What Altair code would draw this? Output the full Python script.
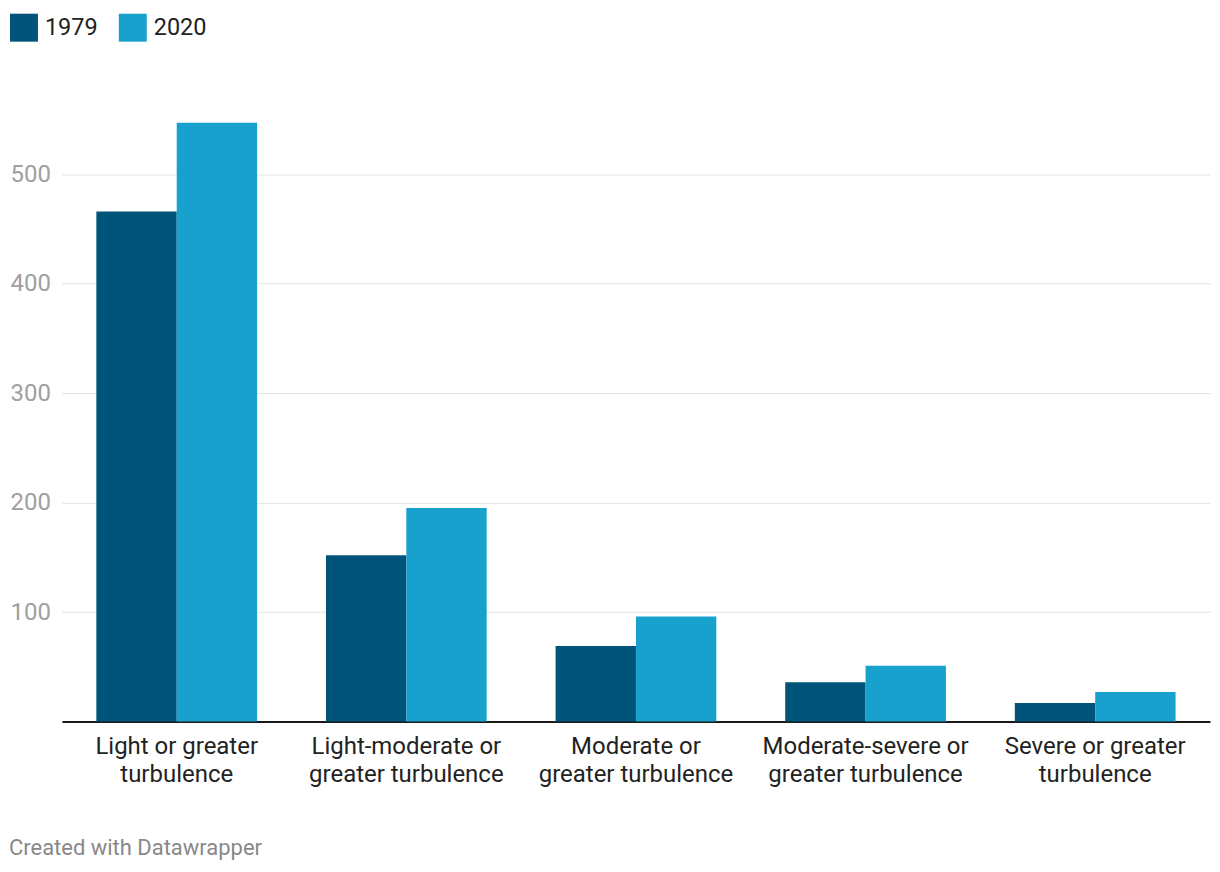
import altair as alt
import pandas as pd

categories = [
    "Light or greater turbulence",
    "Light-moderate or greater turbulence",
    "Moderate or greater turbulence",
    "Moderate-severe or greater turbulence",
    "Severe or greater turbulence",
]
label_line1 = ["Light or greater", "Light-moderate or", "Moderate or", "Moderate-severe or", "Severe or greater"]
label_line2 = ["turbulence", "greater turbulence", "greater turbulence", "greater turbulence", "turbulence"]
years = ["1979", "2020"]
values_1979 = [466, 152, 69, 36, 17]
values_2020 = [547, 195, 96, 51, 27]
y_ticks = [100, 200, 300, 400, 500]
colors = ["#00547a", "#18a1cd"]

rows = []
for c, a, b in zip(categories, values_1979, values_2020):
    rows.append({"category": c, "year": years[0], "value": a})
    rows.append({"category": c, "year": years[1], "value": b})
df = pd.DataFrame(rows)

expr_parts = []
for c, l1, l2 in zip(categories, label_line1, label_line2):
    expr_parts.append(f"datum.value == '{c}' ? ['{l1}', '{l2}']")
label_expr = " : ".join(expr_parts) + " : datum.value"

chart = alt.Chart(df).mark_bar().encode(
    x=alt.X(
        "category:N",
        sort=categories,
        scale=alt.Scale(paddingInner=0.3, paddingOuter=0.15),
        axis=alt.Axis(
            title=None,
            labelAngle=0,
            labelExpr=label_expr,
            labelFontSize=24,
            labelColor="#222222",
            labelFont="Roboto",
            labelLineHeight=28,
            labelPadding=13,
            labelBaseline="top",
            labelLimit=400,
            ticks=False,
            domainColor="#1a1a1a",
            domainWidth=2,
            grid=False,
        ),
    ),
    xOffset=alt.XOffset("year:N", sort=years),
    y=alt.Y(
        "value:Q",
        scale=alt.Scale(domain=[0, 550], nice=False),
        axis=alt.Axis(
            title=None,
            values=y_ticks,
            labelFontSize=24,
            labelColor="#a0a0a0",
            labelFont="Roboto",
            labelAlign="left",
            labelPadding=52,
            ticks=False,
            domain=False,
            gridColor="#e3e3e3",
            gridWidth=1,
        ),
    ),
    color=alt.Color(
        "year:N",
        sort=years,
        scale=alt.Scale(domain=years, range=colors),
        legend=alt.Legend(
            title=None,
            orient="none",
            direction="horizontal",
            legendX=-52,
            legendY=-106,
            symbolType="square",
            symbolSize=784,
            symbolStrokeWidth=0,
            symbolOpacity=1,
            labelFontSize=23.5,
            labelFont="Roboto",
            labelColor="#222222",
            labelOffset=7,
            columnPadding=21,
        ),
    ),
).properties(
    width=1150,
    height=603,
    autosize=alt.AutoSizeParams(type="none"),
    padding={"left": 54, "top": 111, "right": 2, "bottom": 150},
    title=alt.TitleParams(
        text="Created with Datawrapper",
        orient="bottom",
        anchor="start",
        fontSize=22,
        font="Roboto",
        fontWeight="normal",
        color="#888888",
        dx=-1,
        offset=52,
    ),
).configure(font="Roboto").configure_view(strokeWidth=0, stroke="transparent")

chart.save("out.html", embed_options={"renderer": "svg", "actions": False})
